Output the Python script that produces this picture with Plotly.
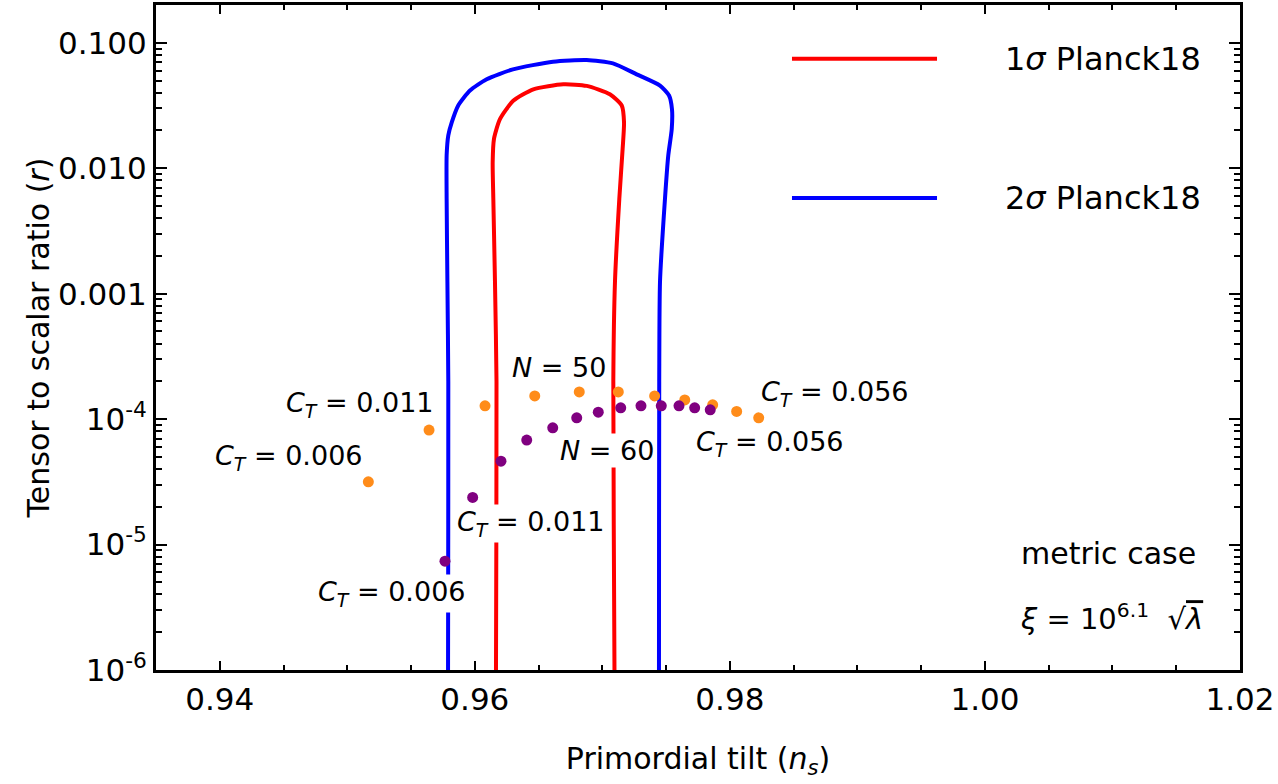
import plotly.graph_objects as go

# Planck18 contours in the (n_s, r) plane
sig1_ns = [0.96166, 0.96166, 0.96170, 0.96158, 0.96145, 0.96140, 0.96150, 0.96197,
           0.96301, 0.96459, 0.96694, 0.96877, 0.97059, 0.97152, 0.97170, 0.97159,
           0.97133, 0.97099, 0.97086, 0.97095, 0.97095]
sig1_r = [3e-7, 1e-6, 2.0e-4, 1.244e-3, 5.70e-3, 0.01116, 0.01708, 0.02461,
          0.03446, 0.04259, 0.04667, 0.04532, 0.03888, 0.03162, 0.02317, 0.01423,
          5.70e-3, 1.244e-3, 2.0e-4, 1e-6, 3e-7]

sig2_ns = [0.95790, 0.95790, 0.95792, 0.95785, 0.95779, 0.95779, 0.95792, 0.95819,
           0.95870, 0.95962, 0.96093, 0.96299, 0.96613, 0.96877, 0.97083, 0.97269,
           0.97452, 0.97523, 0.97546, 0.97544, 0.97517, 0.97491, 0.97452, 0.97446,
           0.97444, 0.97444]
sig2_r = [3e-7, 1e-6, 2.0e-4, 1.244e-3, 5.70e-3, 0.01268, 0.01828, 0.02317,
          0.03162, 0.04159, 0.05113, 0.06138, 0.07066, 0.07290, 0.06851, 0.05603,
          0.04557, 0.03797, 0.02955, 0.02050, 0.01268, 5.70e-3, 1.244e-3, 2.0e-4,
          1e-6, 3e-7]

# N = 50 (orange) and N = 60 (purple) predictions, C_T from 0.006 to 0.056
n50_ns = [0.95165, 0.95641, 0.96080, 0.96470, 0.96819, 0.97125, 0.97410, 0.97646,
          0.97865, 0.98053, 0.98226]
n50_r = [3.16e-5, 8.18e-5, 1.275e-4, 1.530e-4, 1.647e-4, 1.647e-4, 1.530e-4,
         1.423e-4, 1.299e-4, 1.151e-4, 1.024e-4]

n60_ns = [0.95766, 0.95983, 0.96205, 0.96407, 0.96611, 0.96799, 0.96968, 0.97144,
          0.97303, 0.97462, 0.97601, 0.97724, 0.97846]
n60_r = [7.37e-6, 2.373e-5, 4.616e-5, 6.81e-5, 8.53e-5, 1.024e-4, 1.136e-4,
         1.230e-4, 1.275e-4, 1.275e-4, 1.275e-4, 1.230e-4, 1.186e-4]

ytick_vals = [1e-6, 1e-5, 1e-4, 1e-3, 1e-2, 1e-1]
ytick_text = ["10<sup>-6</sup>", "10<sup>-5</sup>", "10<sup>-4</sup>", "0.001", "0.010", "0.100"]
xtick_vals = [0.94, 0.96, 0.98, 1.00, 1.02]
xtick_text = ["0.94", "0.96", "0.98", "1.00", "1.02"]

FONT = "DejaVu Sans, sans-serif"

fig = go.Figure()
fig.add_trace(go.Scatter(x=sig2_ns, y=sig2_r, mode="lines",
                         line=dict(color="#0000FF", width=4, shape="spline", smoothing=0.6),
                         showlegend=False))
fig.add_trace(go.Scatter(x=sig1_ns, y=sig1_r, mode="lines",
                         line=dict(color="#FF0000", width=4, shape="spline", smoothing=0.6),
                         showlegend=False))
fig.add_trace(go.Scatter(x=n50_ns, y=n50_r, mode="markers",
                         marker=dict(color="#FF8C1A", size=11), showlegend=False))
fig.add_trace(go.Scatter(x=n60_ns, y=n60_r, mode="markers",
                         marker=dict(color="#800080", size=11), showlegend=False))

# point labels (y in log10 units for the log axis)
labels = [
    ("<i>C</i><sub><i>T</i></sub> = 0.006", 0.94539, -4.310),
    ("<i>C</i><sub><i>T</i></sub> = 0.011", 0.95100, -3.881),
    ("<i>N</i> = 50", 0.96660, -3.587),
    ("<i>N</i> = 60", 0.97036, -4.254),
    ("<i>C</i><sub><i>T</i></sub> = 0.011", 0.96437, -4.833),
    ("<i>C</i><sub><i>T</i></sub> = 0.006", 0.95351, -5.389),
    ("<i>C</i><sub><i>T</i></sub> = 0.056", 0.98824, -3.794),
    ("<i>C</i><sub><i>T</i></sub> = 0.056", 0.98318, -4.198),
]
for txt, lx, ly in labels:
    fig.add_annotation(x=lx, y=ly, xref="x", yref="y", text=txt, showarrow=False,
                       xanchor="center", yanchor="middle", bgcolor="white", borderpad=1,
                       font=dict(family=FONT, size=27, color="black"))

fig.add_annotation(x=0.8787, y=0.1751, xref="paper", yref="paper", text="metric case",
                   xanchor="center", yanchor="middle", showarrow=False,
                   font=dict(family=FONT, size=30, color="black"))
fig.add_annotation(x=0.8819, y=0.0793, xref="paper", yref="paper",
                   text="<i>ξ</i> = 10<sup>6.1</sup>  √<span style='text-decoration:overline'><i>λ</i></span>",
                   xanchor="center", yanchor="middle", showarrow=False,
                   font=dict(family=FONT, size=29, color="black"))

# hand-made legend
legend_rows = [("#FF0000", "1<i>σ</i> Planck18", 0.9192), ("#0000FF", "2<i>σ</i> Planck18", 0.7096)]
for col, txt, ly in legend_rows:
    fig.add_shape(type="line", xref="paper", yref="paper", x0=0.5867, x1=0.7205,
                  y0=ly, y1=ly, line=dict(color=col, width=4))
    fig.add_annotation(x=0.7814, y=ly, xref="paper", yref="paper", text=txt,
                       xanchor="left", yanchor="middle", showarrow=False,
                       font=dict(family=FONT, size=32, color="black"))

y_minor = [k * 10.0 ** e for e in range(-6, 0) for k in range(2, 10) if k * 10.0 ** e < 0.2]

fig.update_xaxes(range=[0.935, 1.02], tickmode="array", tickvals=xtick_vals, ticktext=xtick_text,
                 ticks="inside", ticklen=9, tickwidth=2, tickcolor="black",
                 minor=dict(ticks="inside", dtick=0.005, tick0=0.935, ticklen=5, tickwidth=2,
                            tickcolor="black", showgrid=False),
                 showline=True, linecolor="black", linewidth=3, mirror="allticks",
                 showgrid=False, zeroline=False,
                 tickfont=dict(family=FONT, size=31, color="black"),
                 title=dict(text="Primordial tilt (<i>n</i><sub><i>s</i></sub>)", standoff=32,
                            font=dict(family=FONT, size=30, color="black")))
fig.update_yaxes(type="log", range=[-6, -0.699], tickmode="array", tickvals=ytick_vals,
                 ticktext=ytick_text, ticks="inside", ticklen=11, tickwidth=2, tickcolor="black",
                 minor=dict(ticks="inside", tickmode="array", tickvals=y_minor, ticklen=6,
                            tickwidth=2, tickcolor="black", showgrid=False),
                 showline=True, linecolor="black", linewidth=3, mirror="allticks",
                 showgrid=False, zeroline=False,
                 tickfont=dict(family=FONT, size=31, color="black"),
                 title=dict(text="Tensor to scalar ratio (<i>r</i>)", standoff=0,
                            font=dict(family=FONT, size=30, color="black")))

fig.update_layout(width=1278, height=784, plot_bgcolor="white", paper_bgcolor="white",
                  margin=dict(l=156, r=38, t=2, b=114), showlegend=False)

fig.write_html("out.html", config={"displayModeBar": False},
               post_script="document.body.style.margin='0';")
